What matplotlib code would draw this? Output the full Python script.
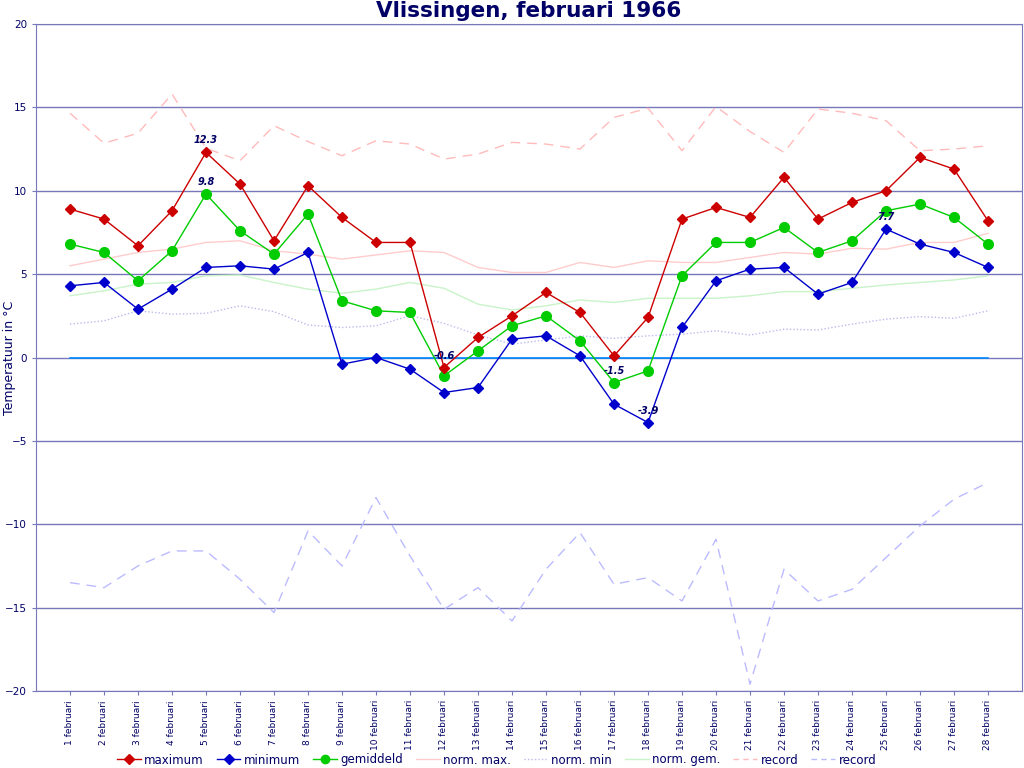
import matplotlib
matplotlib.use("Agg")
import matplotlib.pyplot as plt
from matplotlib.lines import Line2D

days = list(range(1, 29))
day_labels = [f"{d} februari" for d in days]

t_max = [8.9, 8.3, 6.7, 8.8, 12.3, 10.4, 7.0, 10.3, 8.4, 6.9, 6.9, -0.6, 1.2, 2.5,
         3.9, 2.7, 0.1, 2.4, 8.3, 9.0, 8.4, 10.8, 8.3, 9.3, 10.0, 12.0, 11.3, 8.2]
t_min = [4.3, 4.5, 2.9, 4.1, 5.4, 5.5, 5.3, 6.3, -0.4, 0.0, -0.7, -2.1, -1.8, 1.1,
         1.3, 0.1, -2.8, -3.9, 1.8, 4.6, 5.3, 5.4, 3.8, 4.5, 7.7, 6.8, 6.3, 5.4]
t_mean = [6.8, 6.3, 4.6, 6.4, 9.8, 7.6, 6.2, 8.6, 3.4, 2.8, 2.7, -1.1, 0.4, 1.9,
          2.5, 1.0, -1.5, -0.8, 4.9, 6.9, 6.9, 7.8, 6.3, 7.0, 8.8, 9.2, 8.4, 6.8]
norm_max = [5.5, 5.9, 6.3, 6.5, 6.9, 7.0, 6.4, 6.2, 5.9, 6.15, 6.4, 6.3, 5.4, 5.1,
            5.1, 5.7, 5.4, 5.8, 5.7, 5.7, 6.0, 6.3, 6.2, 6.55, 6.5, 6.9, 6.9, 7.45]
norm_min = [2.0, 2.2, 2.8, 2.6, 2.65, 3.1, 2.75, 1.95, 1.8, 1.9, 2.5, 2.05, 1.35, 0.8,
            1.05, 1.3, 1.15, 1.3, 1.4, 1.6, 1.35, 1.7, 1.65, 2.0, 2.3, 2.45, 2.35, 2.8]
norm_mean = [3.7, 4.0, 4.4, 4.5, 4.9, 4.95, 4.5, 4.1, 3.85, 4.1, 4.5, 4.15, 3.2, 2.85,
             3.1, 3.45, 3.3, 3.55, 3.55, 3.55, 3.7, 3.95, 3.95, 4.15, 4.35, 4.5, 4.65, 4.9]
rec_max = [14.65, 12.85, 13.45, 15.8, 12.55, 11.8, 13.9, 12.95, 12.1, 13.0, 12.8, 11.9, 12.2, 12.9,
           12.8, 12.5, 14.4, 14.95, 12.4, 15.05, 13.55, 12.3, 14.9, 14.65, 14.2, 12.4, 12.5, 12.7]
rec_min = [-13.5, -13.8, -12.5, -11.6, -11.6, -13.3, -15.3, -10.4, -12.5, -8.4, -11.9, -15.1, -13.8, -15.8,
           -12.7, -10.5, -13.6, -13.2, -14.6, -10.9, -19.6, -12.7, -14.6, -13.9, -12.0, -10.1, -8.5, -7.5]
zero_line = [0.0] * len(days)

# labelled extremes: day numbers per series
labels_max = [5, 12]
labels_min = [18, 25]
labels_mean = [5, 17]

navy = "#000066"
grid_c = "#7777bb"

fig = plt.figure(figsize=(10.24, 7.68), dpi=100)
ax = fig.add_axes([36 / 1024, 1 - 691 / 768, 986 / 1024, 667 / 768])

ax.set_xlim(0, 29)
ax.set_ylim(-20, 20)
ax.set_yticks(range(-20, 21, 5))
ax.set_xticks(days)
ax.set_xticklabels(day_labels, rotation=90, fontsize=6.5, color=navy)
ax.tick_params(axis="y", labelsize=7.5, labelcolor=navy, color=grid_c, length=3)
ax.tick_params(axis="x", color=grid_c, length=3)
ax.yaxis.grid(True, color=grid_c, lw=1)
ax.set_axisbelow(True)
for s in ax.spines.values():
    s.set_color(grid_c)

ax.plot(days, zero_line, color="#0088ff", lw=1.2, zorder=2)
ax.plot(days, rec_max, color="#ffbbbb", lw=1, ls=(0, (7, 5)), zorder=2)
ax.plot(days, rec_min, color="#bbbbff", lw=1, ls=(0, (7, 5)), zorder=2)
ax.plot(days, norm_max, color="#ffcccc", lw=1, zorder=2)
ax.plot(days, norm_min, color="#bbbbee", lw=1, ls=(0, (1, 1.5)), zorder=2)
ax.plot(days, norm_mean, color="#c8f4c8", lw=1, zorder=2)
ax.plot(days, t_max, color="#cc0000", lw=1, marker="D", ms=5.5, zorder=4)
ax.plot(days, t_min, color="#0000cc", lw=1, marker="D", ms=5.5, zorder=4)
ax.plot(days, t_mean, color="#00cc00", lw=1, marker="o", ms=7, zorder=3)

def lab(series, d):
    v = series[d - 1]
    ax.annotate(f"{v:.1f}", (d, v), xytext=(0, 5), textcoords="offset points",
                ha="center", va="bottom", fontsize=7, fontweight="bold",
                fontstyle="italic", color=navy, zorder=6)

for d in labels_max:
    lab(t_max, d)
for d in labels_min:
    lab(t_min, d)
for d in labels_mean:
    lab(t_mean, d)

ax.set_title("Vlissingen, februari 1966", fontsize=15.5, fontweight="bold", color=navy, pad=5)
ax.set_ylabel("Temperatuur in °C", fontsize=9, color=navy)
ax.yaxis.set_label_coords(-20 / 986, 0.5)

handles = [
    Line2D([], [], color="#cc0000", marker="D", ms=5, lw=1),
    Line2D([], [], color="#0000cc", marker="D", ms=5, lw=1),
    Line2D([], [], color="#00cc00", marker="o", ms=6, lw=1),
    Line2D([], [], color="#ffcccc", lw=1),
    Line2D([], [], color="#bbbbee", lw=1, ls=(0, (1, 1.5))),
    Line2D([], [], color="#c8f4c8", lw=1),
    Line2D([], [], color="#ffbbbb", lw=1, ls=(0, (4, 3))),
    Line2D([], [], color="#bbbbff", lw=1, ls=(0, (4, 3))),
]
names = ["maximum", "minimum", "gemiddeld", "norm. max.", "norm. min", "norm. gem.", "record", "record"]
leg = fig.legend(handles, names, loc="center", bbox_to_anchor=(0.485, 1 - 760 / 768), ncol=8,
                 frameon=False, fontsize=8.5, handlelength=2.0, columnspacing=1.1, handletextpad=0.3)
for t in leg.get_texts():
    t.set_color(navy)

fig.savefig("out.png", dpi=100)
